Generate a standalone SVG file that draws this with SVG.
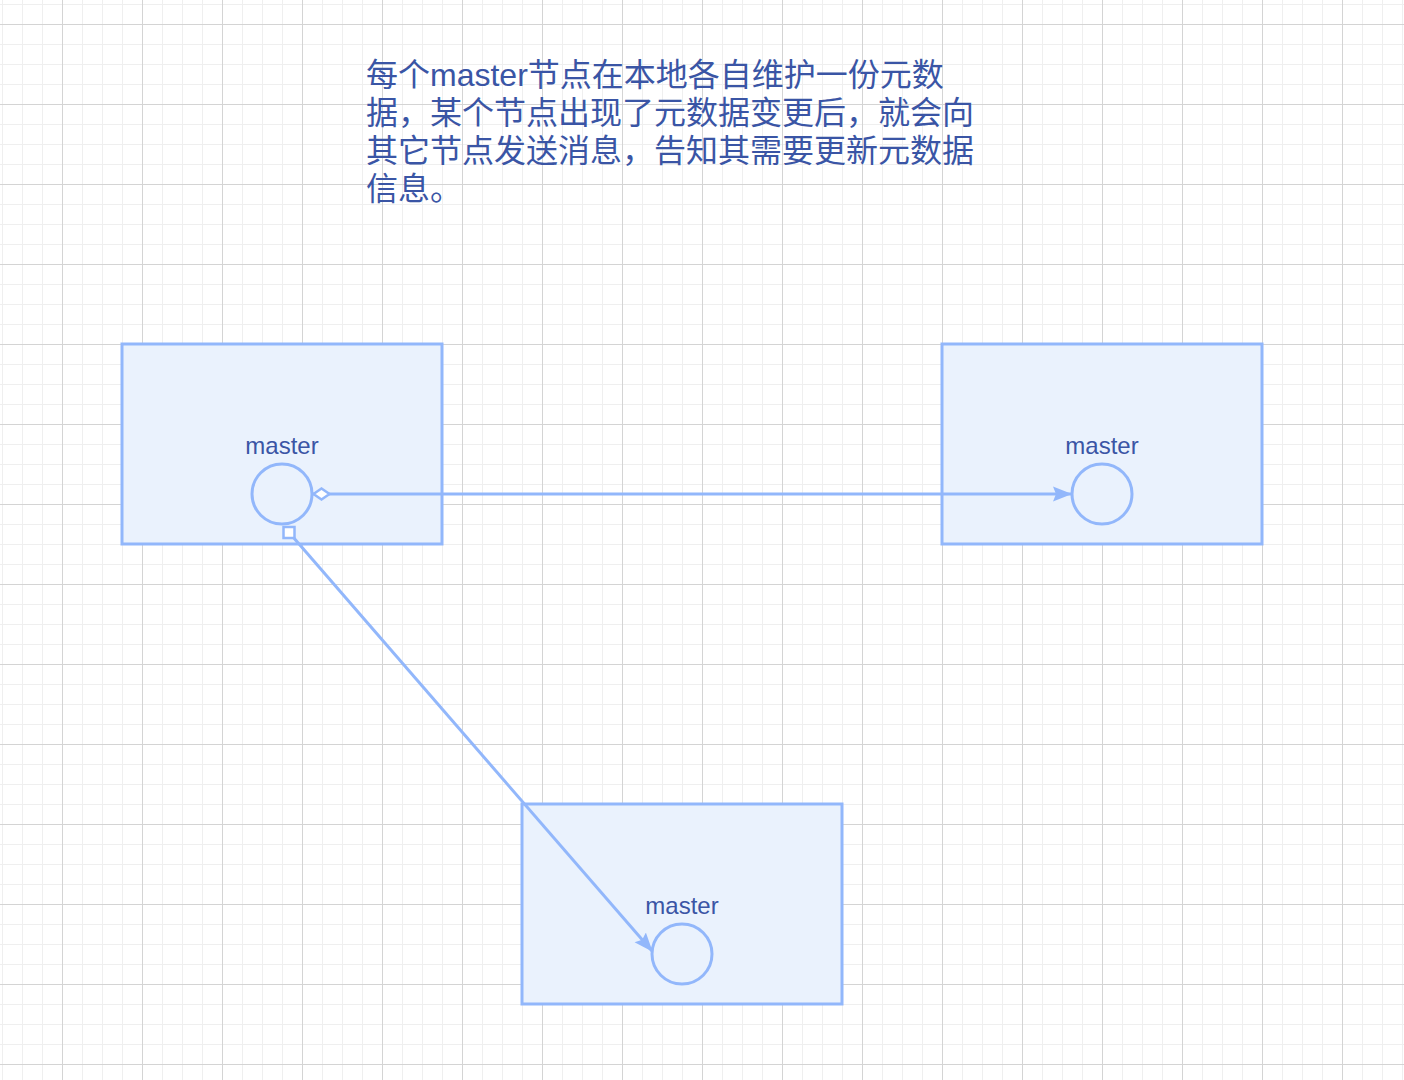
<svg xmlns="http://www.w3.org/2000/svg" width="1404" height="1080" viewBox="0 0 1404 1080">
<defs>
<style>
.box{fill:#eaf2fd;stroke:#92b7fb;stroke-width:3}
.port{fill:none;stroke:#92b7fb;stroke-width:3}
.lbl{font-family:"Liberation Sans","Noto Sans CJK SC",sans-serif;font-size:24px;fill:#3a55a5;text-anchor:middle}
.note{font-family:"Liberation Sans","Noto Sans CJK SC",sans-serif;font-size:32px;fill:#3a55a5}
.edge{fill:none;stroke:#92b7fb;stroke-width:3}
.minor{stroke:#efefef;stroke-width:1;fill:none}
.major{stroke:#d4d4d4;stroke-width:1;fill:none}
</style>
<pattern id="grid" x="62" y="24" width="80" height="80" patternUnits="userSpaceOnUse">
<rect width="80" height="80" fill="#ffffff"/>
<path class="minor" d="M20.5 0V80M40.5 0V80M60.5 0V80M0 20.5H80M0 40.5H80M0 60.5H80"/>
<path class="major" d="M0.5 0V80M0 0.5H80"/>
</pattern>
<marker id="arrow" viewBox="0 0 19 16" refX="18" refY="8" markerWidth="19" markerHeight="16" markerUnits="userSpaceOnUse" orient="auto">
<path d="M0 0.5L19 8L0 15.5L3 8Z" fill="#92b7fb"/>
</marker>
<marker id="diamond" viewBox="0 0 20 14" refX="1" refY="7" markerWidth="20" markerHeight="14" markerUnits="userSpaceOnUse" orient="auto">
<path d="M1.5 7L9.5 1.5L17.5 7L9.5 12.5Z" fill="#ffffff" stroke="#92b7fb" stroke-width="2.5"/>
</marker>
</defs>
<rect width="1404" height="1080" fill="url(#grid)"/>
<text class="note"><tspan x="366" y="86">每个master节点在本地各自维护一份元数</tspan><tspan x="366" y="124">据，某个节点出现了元数据变更后，就会向</tspan><tspan x="366" y="162">其它节点发送消息，告知其需要更新元数据</tspan><tspan x="366" y="200">信息。</tspan></text>
<g id="node-master-1">
<rect class="box" x="122" y="344" width="320" height="200"/>
<text class="lbl" x="282" y="454">master</text>
<circle class="port" cx="282" cy="494" r="30"/>
</g>
<g id="node-master-2">
<rect class="box" x="942" y="344" width="320" height="200"/>
<text class="lbl" x="1102" y="454">master</text>
<circle class="port" cx="1102" cy="494" r="30"/>
</g>
<g id="node-master-3">
<rect class="box" x="522" y="804" width="320" height="200"/>
<text class="lbl" x="682" y="914">master</text>
<circle class="port" cx="682" cy="954" r="30"/>
</g>
<g id="connectors">
<path class="edge" d="M313 494H1071" marker-start="url(#diamond)" marker-end="url(#arrow)"/>
<path class="edge" d="M293 537L652 951" marker-end="url(#arrow)"/>
<rect x="283.5" y="527" width="11" height="11" fill="#ffffff" stroke="#92b7fb" stroke-width="2.5"/>
</g>
</svg>
